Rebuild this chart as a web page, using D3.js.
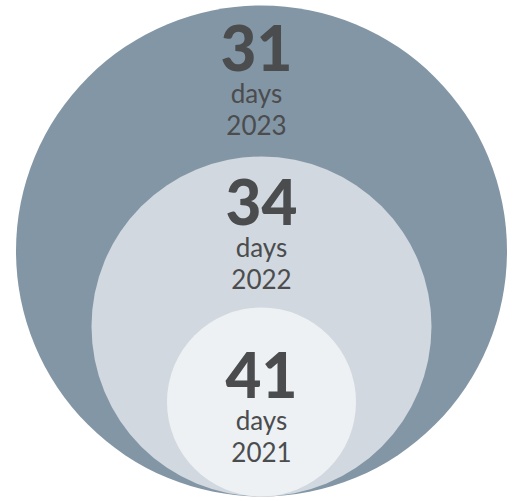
<!DOCTYPE html>
<html>
<head>
<meta charset="utf-8">
<script src="https://cdn.jsdelivr.net/npm/d3@7"></script>
<style>
  body { margin: 0; background: #fff; }
  svg { display: block; }
  text { font-family: Lato, "Open Sans", sans-serif; fill: #4b4c4e; }
</style>
</head>
<body>
<div id="chart"></div>
<script>
// Chart values
var years = ["2023", "2022", "2021"];
var days = [31, 34, 41];
var unitLabel = "days";
var fills = ["#8396a5", "#d1d8df", "#edf1f4"];

var width = 516;
var height = 501;
var centerX = 261.5;
var baseY = 496.5;

var svg = d3.select("#chart")
     .append("svg")
     .attr("width", width)
     .attr("height", height);

// Radius by position in the stack (outermost = most recent year)
var scaleR = d3.scalePoint()
     .domain(years)
     .range([245.5, 94.5]);

var data = years.map(function(y, i) {
     return {year: y, days: days[i], fill: fills[i]};
});

// Circles, all resting on the same bottom line
svg.selectAll("circle")
     .data(data)
     .enter()
     .append("circle")
     .attr("cx", centerX)
     .attr("cy", function(d) { return baseY - scaleR(d.year); })
     .attr("r", function(d) { return scaleR(d.year); })
     .attr("fill", function(d) { return d.fill; });

// Labels: number, unit, year
var numOffset = [65, 68, 90];
var labelDx = [-5, 0, 0];

var labels = svg.selectAll("g.label")
     .data(data)
     .enter()
     .append("g")
     .attr("class", "label")
     .attr("transform", function(d, i) {
          var top = baseY - 2 * scaleR(d.year);
          return "translate(" + (centerX + labelDx[i]) + "," + (top + numOffset[i]) + ")";
     });

labels.append("text")
     .attr("text-anchor", "middle")
     .style("font-size", "62px")
     .style("font-weight", 900)
     .text(function(d) { return d.days; });

labels.append("text")
     .attr("text-anchor", "middle")
     .attr("y", 32)
     .style("font-size", "26px")
     .text(unitLabel);

labels.append("text")
     .attr("text-anchor", "middle")
     .attr("y", 64)
     .style("font-size", "26px")
     .text(function(d) { return d.year; });
</script>
</body>
</html>
